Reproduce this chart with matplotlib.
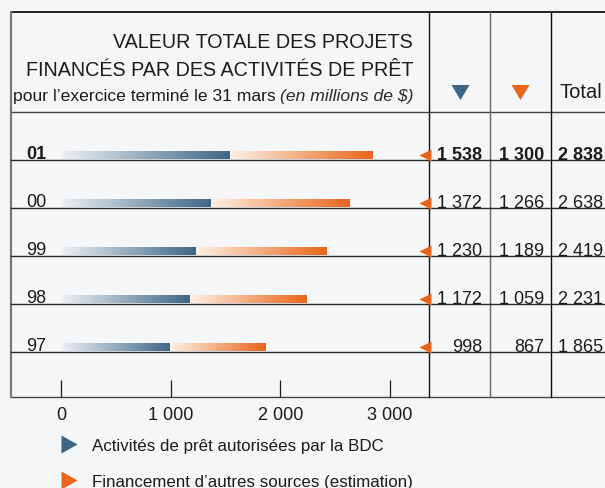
import numpy as np
import matplotlib
matplotlib.use('Agg')
import matplotlib.pyplot as plt
from matplotlib.colors import to_rgba
from matplotlib.transforms import blended_transform_factory

plt.rcParams['font.family'] = ['Liberation Sans', 'DejaVu Sans']

# données (en millions de $)
years = ['01', '00', '99', '98', '97']
bdc = [1538, 1372, 1230, 1172, 998]
other = [1300, 1266, 1189, 1059, 867]
total = [2838, 2638, 2419, 2231, 1865]
xticks = [0, 1000, 2000, 3000]
xtick_labels = ['0', '1 000', '2 000', '3 000']
legend_labels = ['Activités de prêt autorisées par la BDC',
                 'Financement d’autres sources (estimation)']

BG = '#f5f6f8'
BLUE = '#3d6686'
ORANGE = '#e8661b'
INK = '#1c1c1c'
W, H = 605, 488


def fmt(v):
    return f'{v:,}'.replace(',', ' ')


def gradient(c0, c1, n=256):
    a = np.array(to_rgba(c0))
    b = np.array(to_rgba(c1))
    t = np.linspace(0, 1, n)[:, None]
    return (a + (b - a) * t)[None, :, :]


fig = plt.figure(figsize=(W / 100, H / 100), dpi=100, facecolor=BG)

# calque de mise en page, en pixels
lay = fig.add_axes([0, 0, 1, 1], zorder=0)
lay.set_xlim(0, W)
lay.set_ylim(H, 0)
lay.axis('off')

# axe du graphique à barres
x0_px, x_zero, k = 11, 61, (390 - 61) / 3000
row0_px, row_step = 159.7, 48.0
top_px, bot_px, right_px = 12, 397, 429.3
ax = fig.add_axes([x0_px / W, (H - bot_px) / H, (right_px - x0_px) / W, (bot_px - top_px) / H], zorder=1)
ax.patch.set_alpha(0)
for s in ax.spines.values():
    s.set_visible(False)

bar_h = 8 / row_step
for i in range(len(years)):
    ax.imshow(gradient('#eef1f5', BLUE), extent=(0, bdc[i], i - 0.01, i - bar_h),
              aspect='auto', interpolation='bilinear', zorder=2)
    ax.imshow(gradient('#fff1e4', ORANGE), extent=(bdc[i], total[i], i - 0.01, i - bar_h),
              aspect='auto', interpolation='bilinear', zorder=2)

ax.set_xlim((x0_px - x_zero) / k, (right_px - x_zero) / k)
ax.set_ylim((bot_px - row0_px) / row_step, (top_px - row0_px) / row_step)
ax.set_yticks([])
ax.set_xticks(xticks)
ax.set_xticklabels(xtick_labels)
ax.tick_params(axis='x', direction='in', length=12, width=0.9, color=INK,
               pad=7, labelsize=13, labelcolor=INK)

# x en pixels, y en rangées
tr = blended_transform_factory(lay.transData, ax.transData)

# lignes du tableau
for i in range(len(years)):
    ax.plot([x0_px, W], [i, i], transform=tr, color='#2a2a2a', lw=1.0, clip_on=False, zorder=1)
lay.plot([x0_px, W], [top_px, top_px], color='#111111', lw=1.3)
lay.plot([x0_px, W], [111.5, 111.5], color='#444444', lw=1.0)
lay.plot([x0_px, W], [bot_px, bot_px], color='#444444', lw=1.0)
lay.plot([x0_px, x0_px], [top_px, bot_px], color='#7a7a7a', lw=1.6)
for xc, c in [(429.3, '#111111'), (490, '#666666'), (550.7, '#111111')]:
    lay.plot([xc, xc], [top_px, bot_px], color=c, lw=1.0)

# libellés des années et valeurs
for i in range(len(years)):
    w = 'bold' if i == 0 else 'normal'
    ax.text(26.5, i - 0.01, years[i], transform=tr, ha='left', va='baseline',
            fontsize=13, color=INK, fontweight=w)
    ax.plot(424.5, i - 0.1, transform=tr, marker='<', ms=8.5, color=ORANGE,
            mec='none', clip_on=False)
    for xr, v in [(482, bdc[i]), (544.5, other[i]), (603, total[i])]:
        ax.text(xr, i + 0.01, fmt(v), transform=tr, ha='right', va='baseline',
                fontsize=13, color=INK, fontweight=w)

# en-tête
lay.text(413, 48, 'VALEUR TOTALE DES PROJETS', ha='right', va='baseline', fontsize=14.2, color=INK)
lay.text(413, 75.5, 'FINANCÉS PAR DES ACTIVITÉS DE PRÊT', ha='right', va='baseline',
         fontsize=14.2, color=INK)
it = lay.text(413, 101, '(en millions de $)', ha='right', va='baseline', fontsize=12.6,
              style='italic', color='#2a2a2a')
fig.canvas.draw()
bb = it.get_window_extent()
x_it = lay.transData.inverted().transform((bb.x0, 0))[0]
lay.text(x_it - 4, 101, 'pour l’exercice terminé le 31 mars', ha='right', va='baseline',
         fontsize=12.6, color=INK)

down = [(-9, 7.5), (9, 7.5), (0, -7.5)]
lay.plot(459.5, 91.5, marker=down, ms=13, color=BLUE, mec='none')
lay.plot(520, 91.5, marker=down, ms=13, color=ORANGE, mec='none')
lay.text(559, 98, 'Total', ha='left', va='baseline', fontsize=14.5, color=INK)

# légende
right = [(-8, 9), (-8, -9), (8, 0)]
for yc, c, lab in [(444, BLUE, legend_labels[0]), (480, ORANGE, legend_labels[1])]:
    lay.plot(69, yc, marker=right, ms=13, color=c, mec='none')
    lay.text(92.3, yc + 6.5, lab, ha='left', va='baseline', fontsize=12.2, color=INK)

fig.savefig('out.png', dpi=100, facecolor=BG)
